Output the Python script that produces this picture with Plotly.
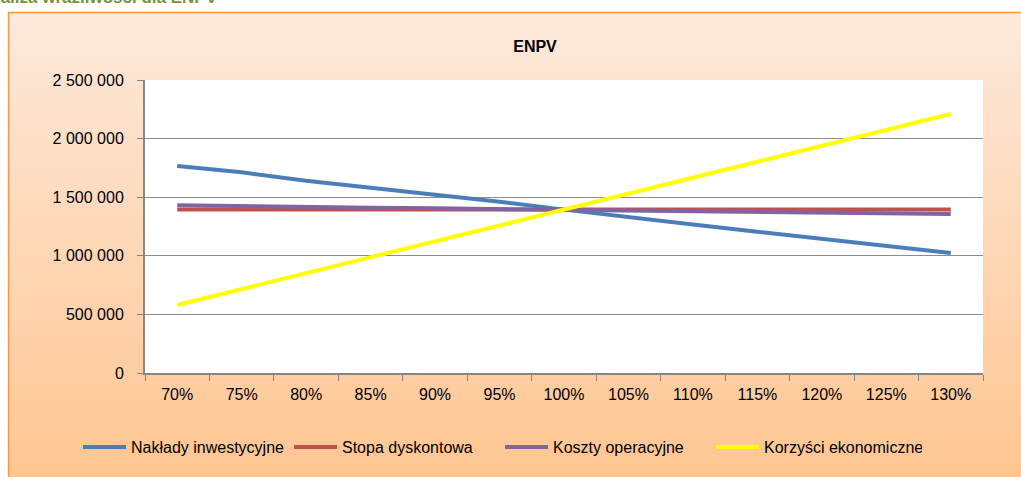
import plotly.graph_objects as go

# Sensitivity scenarios (share of the base value)
scenarios = ["70%", "75%", "80%", "85%", "90%", "95%", "100%",
             "105%", "110%", "115%", "120%", "125%", "130%"]

# ENPV for each varied parameter
naklady_inwestycyjne = [1766000, 1712000, 1640000, 1582000, 1520000, 1462000, 1394000,
                        1328000, 1268000, 1206000, 1146000, 1090000, 1024000]
stopa_dyskontowa = [1394000, 1394000, 1394000, 1394000, 1394000, 1394000, 1394000,
                    1394000, 1394000, 1394000, 1394000, 1394000, 1394000]
koszty_operacyjne = [1432000, 1422000, 1418000, 1410000, 1405000, 1399000, 1394000,
                     1388000, 1382000, 1376000, 1370000, 1364000, 1356000]
korzysci_ekonomiczne = [580000, 716000, 852000, 988000, 1123000, 1259000, 1394000,
                        1530000, 1666000, 1802000, 1938000, 2074000, 2210000]

series = [
    ("Nakłady inwestycyjne", naklady_inwestycyjne, "#4a7ebb"),
    ("Stopa dyskontowa", stopa_dyskontowa, "#c0504d"),
    ("Koszty operacyjne", koszty_operacyjne, "#8064a2"),
    ("Korzyści ekonomiczne", korzysci_ekonomiczne, "#ffff00"),
]

FONT = "Liberation Sans, Arial, sans-serif"
FS = 16
W, H = 1021, 477
ML, MR, MT, MB = 145, 38, 80, 104
PW, PH = W - ML - MR, H - MT - MB


def px_to_paper_x(px):
    return (px - ML) / PW


def px_to_paper_y(py):
    return (H - MB - py) / PH


fig = go.Figure()
for name, vals, color in series:
    fig.add_trace(go.Scatter(
        x=scenarios, y=vals, name=name, mode="lines",
        line=dict(color=color, width=4),
    ))

# Peach vertical gradient behind the chart box
shapes = []
top_px, bot_px = 12, 495
c_top = (253, 233, 219)
c_bot = (255, 196, 143)
n = 60
for i in range(n):
    t = (i + 0.5) / n
    col = tuple(round(a + (b - a) * t) for a, b in zip(c_top, c_bot))
    y0 = top_px + (bot_px - top_px) * i / n
    y1 = top_px + (bot_px - top_px) * (i + 1) / n + 0.6
    shapes.append(dict(
        type="rect", xref="paper", yref="paper", layer="below",
        x0=px_to_paper_x(8), x1=px_to_paper_x(1040),
        y0=px_to_paper_y(y1), y1=px_to_paper_y(y0),
        fillcolor="rgb(%d,%d,%d)" % col, line=dict(width=0),
    ))
# orange frame of the chart box
shapes.append(dict(
    type="rect", xref="paper", yref="paper", layer="below",
    x0=px_to_paper_x(8.5), x1=px_to_paper_x(1040),
    y0=px_to_paper_y(bot_px), y1=px_to_paper_y(12.5),
    fillcolor="rgba(0,0,0,0)", line=dict(color="#f79646", width=1.5),
))
# white plotting area
shapes.append(dict(
    type="rect", xref="paper", yref="paper", layer="below",
    x0=0, x1=1, y0=0, y1=1, fillcolor="white", line=dict(width=0),
))

fig.update_layout(
    width=W, height=H,
    margin=dict(l=ML, r=MR, t=MT, b=MB),
    paper_bgcolor="white",
    plot_bgcolor="white",
    separators=", ",
    font=dict(family=FONT, size=FS, color="#000000"),
    shapes=shapes,
    title=dict(
        text="<b>ENPV</b>", font=dict(family=FONT, size=16, color="#000000"),
        x=px_to_paper_x(535), xref="paper", xanchor="center",
        y=1 - 46 / H, yref="container", yanchor="middle",
    ),
    annotations=[dict(
        text="<b>Analiza wrażliwości dla ENPV</b>", showarrow=False,
        xref="paper", yref="paper", xanchor="right", yanchor="bottom",
        x=px_to_paper_x(220), y=px_to_paper_y(9),
        font=dict(family=FONT, size=17, color="#76923c"),
    )],
    showlegend=True,
    legend=dict(
        orientation="h", x=px_to_paper_x(78), xanchor="left",
        y=px_to_paper_y(447), yanchor="middle",
        font=dict(family=FONT, size=FS, color="#000000"),
        bgcolor="rgba(0,0,0,0)", itemclick=False,
        itemwidth=43, entrywidth=153, entrywidthmode="pixels",
    ),
    xaxis=dict(
        type="category", showgrid=False, showline=True, linecolor="#868686",
        linewidth=2, ticks="outside", tickson="boundaries", ticklen=6,
        tickcolor="#868686", tickwidth=1, ticklabelstandoff=6,
        tickfont=dict(family=FONT, size=FS, color="#000000"),
        range=[-0.5, len(scenarios) - 0.5], fixedrange=True,
    ),
    yaxis=dict(
        range=[0, 2500000], dtick=500000, tick0=0, tickformat=",d",
        showgrid=True, gridcolor="#8c8c8c", gridwidth=1,
        showline=True, linecolor="#868686", linewidth=2,
        ticks="outside", ticklen=6, tickcolor="#868686", tickwidth=1,
        ticklabelstandoff=10, zeroline=False,
        tickfont=dict(family=FONT, size=FS, color="#000000"),
        fixedrange=True,
    ),
)

fig.write_html("out.html")
